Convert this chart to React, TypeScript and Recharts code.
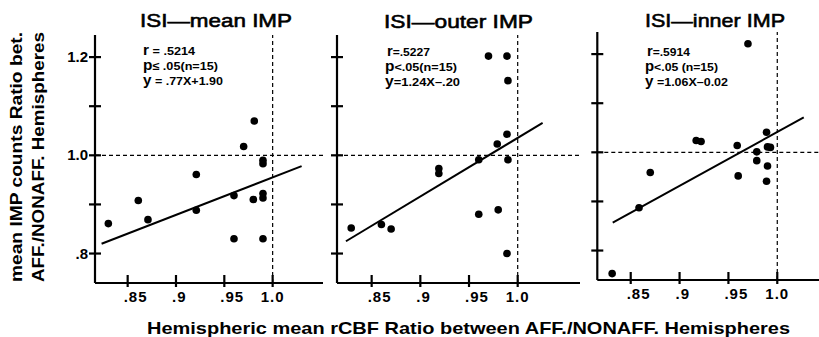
import { ScatterChart, Scatter, XAxis, YAxis, ReferenceLine } from 'recharts'

// ── data ────────────────────────────────────────────────────────────────────

const meanX = [0.830, 0.861, 0.871, 0.921, 0.921, 0.960, 0.960, 0.970, 0.981, 0.980, 0.990, 0.990, 0.990, 0.990, 0.990]
const meanY = [0.861, 0.908, 0.869, 0.961, 0.888, 0.918, 0.830, 1.018, 1.070, 0.910, 0.990, 0.983, 0.922, 0.913, 0.830]
const meanFitX = [0.823, 1.030]
const meanFitY = [0.820, 0.978]

const outerX = [0.829, 0.860, 0.870, 0.919, 0.919, 0.960, 0.960, 0.970, 0.979, 0.980, 0.989, 0.990, 0.989, 0.990, 0.989]
const outerY = [0.852, 0.859, 0.850, 0.973, 0.963, 0.991, 0.880, 1.202, 1.023, 0.889, 1.202, 1.152, 1.043, 0.991, 0.800]
const outerFitX = [0.8236, 1.0256]
const outerFitY = [0.825, 1.066]

const innerX = [0.831, 0.8585, 0.870, 0.917, 0.922, 0.959, 0.960, 0.970, 0.979, 0.979, 0.989, 0.990, 0.993, 0.990, 0.989]
const innerY = [0.753, 0.887, 0.959, 1.024, 1.022, 1.014, 0.952, 1.221, 1.001, 0.983, 1.041, 1.011, 1.010, 0.972, 0.941]
const innerFitX = [0.8316, 1.0271]
const innerFitY = [0.857, 1.071]

const xTicks = [0.85, 0.9, 0.95, 1.0]
const yTicks = [0.8, 0.9, 1.0, 1.1, 1.2]
const yLabelled = [0.8, 1.0, 1.2]

const FONT = "'Liberation Sans', Arial, Helvetica, sans-serif"

const zip = (xs: number[], ys: number[]) => xs.map((x, i) => ({ x, y: ys[i] }))

function fmtX(v: number): string {
  if (v === 1) return '1.0'
  return String(v).replace(/^0/, '')
}

function fmtY(v: number): string {
  if (!yLabelled.includes(v)) return ''
  if (v === 1) return '1.0'
  return String(v).replace(/^0/, '')
}

// tick marks cross the axis: tickSize 0, so x/y below sit on the axis line
function XTick(props: any) {
  const { x, y, payload } = props
  const label = fmtX(payload.value)
  const isOne = label === '1.0'
  return (
    <g>
      <path d={`M${x},${y - 8}L${x},${y + 4}`} stroke="#000" strokeWidth={2.2} fill="none" />
      <text
        x={isOne ? x : x - 4}
        y={y + 19}
        textAnchor={isOne ? 'middle' : 'start'}
        fontFamily={FONT}
        fontWeight="bold"
        fontSize={15}
        letterSpacing={1}
        fill="#000"
      >
        {label}
      </text>
    </g>
  )
}

function makeYTick(showLabels: boolean) {
  return function YTick(props: any) {
    const { x, y, payload } = props
    return (
      <g>
        <path d={`M${x - 6},${y}L${x + 6},${y}`} stroke="#000" strokeWidth={2.2} fill="none" />
        {showLabels && (
          <text x={x - 7} y={y + 5} textAnchor="end" fontFamily={FONT} fontWeight="bold" fontSize={15} fill="#000">
            {fmtY(payload.value)}
          </text>
        )}
      </g>
    )
  }
}

const Dot = (props: any) => <circle cx={props.cx} cy={props.cy} r={3.8} fill="#000" />
const NoDot = () => <g />

type PanelProps = {
  left: number
  width: number
  yAxisWidth: number
  top: number
  bottom: number
  xDomain: [number, number]
  points: { x: number; y: number }[]
  fit: { x: number; y: number }[]
  showYLabels: boolean
}

function Panel({ left, width, yAxisWidth, top, bottom, xDomain, points, fit, showYLabels }: PanelProps) {
  const height = 337
  return (
    <div style={{ position: 'absolute', left, top: 0, width, height }}>
      <ScatterChart width={width} height={height} margin={{ top, right: 0, bottom: height - bottom - 30, left: 0 }}>
        <XAxis
          type="number"
          dataKey="x"
          domain={xDomain}
          ticks={xTicks}
          height={30}
          tickSize={0}
          tickMargin={0}
          tickLine={false}
          axisLine={{ stroke: '#000', strokeWidth: 2.2 }}
          tick={XTick}
        />
        <YAxis
          type="number"
          dataKey="y"
          domain={[0.74, 1.245]}
          ticks={yTicks}
          width={yAxisWidth}
          tickSize={0}
          tickMargin={0}
          tickLine={false}
          axisLine={{ stroke: '#000', strokeWidth: 2.2 }}
          tick={makeYTick(showYLabels)}
        />
        <ReferenceLine y={1} stroke="#000" strokeWidth={1.2} strokeDasharray="4 3" />
        <ReferenceLine x={1} stroke="#000" strokeWidth={1.2} strokeDasharray="4 3" />
        <Scatter data={fit} line={{ stroke: '#000', strokeWidth: 2 }} shape={NoDot} isAnimationActive={false} />
        <Scatter data={points} shape={Dot} isAnimationActive={false} />
      </ScatterChart>
    </div>
  )
}

function Note({ x, y, lead, rest, len }: { x: number; y: number; lead: string; rest: string; len: number }) {
  return (
    <text x={x} y={y} textLength={len} lengthAdjust="spacingAndGlyphs" fontFamily={FONT} fontWeight="bold" fill="#000">
      <tspan fontSize={14}>{lead}</tspan>
      <tspan fontSize={11.5}>{rest}</tspan>
    </text>
  )
}

export default function App() {
  return (
    <div style={{ position: 'absolute', left: 0, top: 0, width: 819, height: 337, background: '#fff' }}>
      <svg width={819} height={337} style={{ position: 'absolute', left: 0, top: 0, pointerEvents: 'none' }}>
        <g fontFamily={FONT} fill="#000" stroke="#000" strokeWidth={0.6}>
          <text x={140} y={27} fontSize={19} textLength={152} lengthAdjust="spacingAndGlyphs">ISI—mean IMP</text>
          <text x={384} y={28} fontSize={19} textLength={149} lengthAdjust="spacingAndGlyphs">ISI—outer IMP</text>
          <text x={645} y={27} fontSize={19} textLength={140} lengthAdjust="spacingAndGlyphs">ISI—inner IMP</text>
        </g>

        <Note x={143} y={55} lead="r" rest=" = .5214" len={52} />
        <Note x={143} y={70} lead="p" rest="≤ .05(n=15)" len={75} />
        <Note x={143} y={85} lead="y" rest=" = .77X+1.90" len={80} />

        <Note x={387} y={56} lead="r" rest="=.5227" len={43} />
        <Note x={385} y={71} lead="p" rest="<.05(n=15)" len={72} />
        <Note x={385} y={86} lead="y" rest="=1.24X–.20" len={75} />

        <Note x={647} y={56} lead="r" rest="=.5914" len={43} />
        <Note x={645} y={71} lead="p" rest="<.05 (n=15)" len={73} />
        <Note x={645} y={86} lead="y" rest=" =1.06X–0.02" len={83} />

        <g fontFamily={FONT} fontWeight="bold" fontSize={16} fill="#000">
          <text transform="translate(22,282) rotate(-90)" textLength={250} lengthAdjust="spacingAndGlyphs">
            mean IMP counts Ratio bet.
          </text>
          <text transform="translate(44,282) rotate(-90)" textLength={250} lengthAdjust="spacingAndGlyphs">
            AFF./NONAFF. Hemispheres
          </text>
          <text x={147} y={334} fontSize={17} textLength={643} lengthAdjust="spacingAndGlyphs">
            Hemispheric mean rCBF Ratio between AFF./NONAFF. Hemispheres
          </text>
        </g>
      </svg>

      <Panel left={40} width={283} yAxisWidth={55} top={35} bottom={283}
        xDomain={[0.8162, 1.0521]} points={zip(meanX, meanY)} fit={zip(meanFitX, meanFitY)} showYLabels />
      <Panel left={300} width={280} yAxisWidth={37} top={35} bottom={283}
        xDomain={[0.8144, 1.064]} points={zip(outerX, outerY)} fit={zip(outerFitX, outerFitY)} showYLabels={false} />
      <Panel left={560} width={259} yAxisWidth={37.3} top={32} bottom={280}
        xDomain={[0.8158, 1.0427]} points={zip(innerX, innerY)} fit={zip(innerFitX, innerFitY)} showYLabels={false} />
    </div>
  )
}
